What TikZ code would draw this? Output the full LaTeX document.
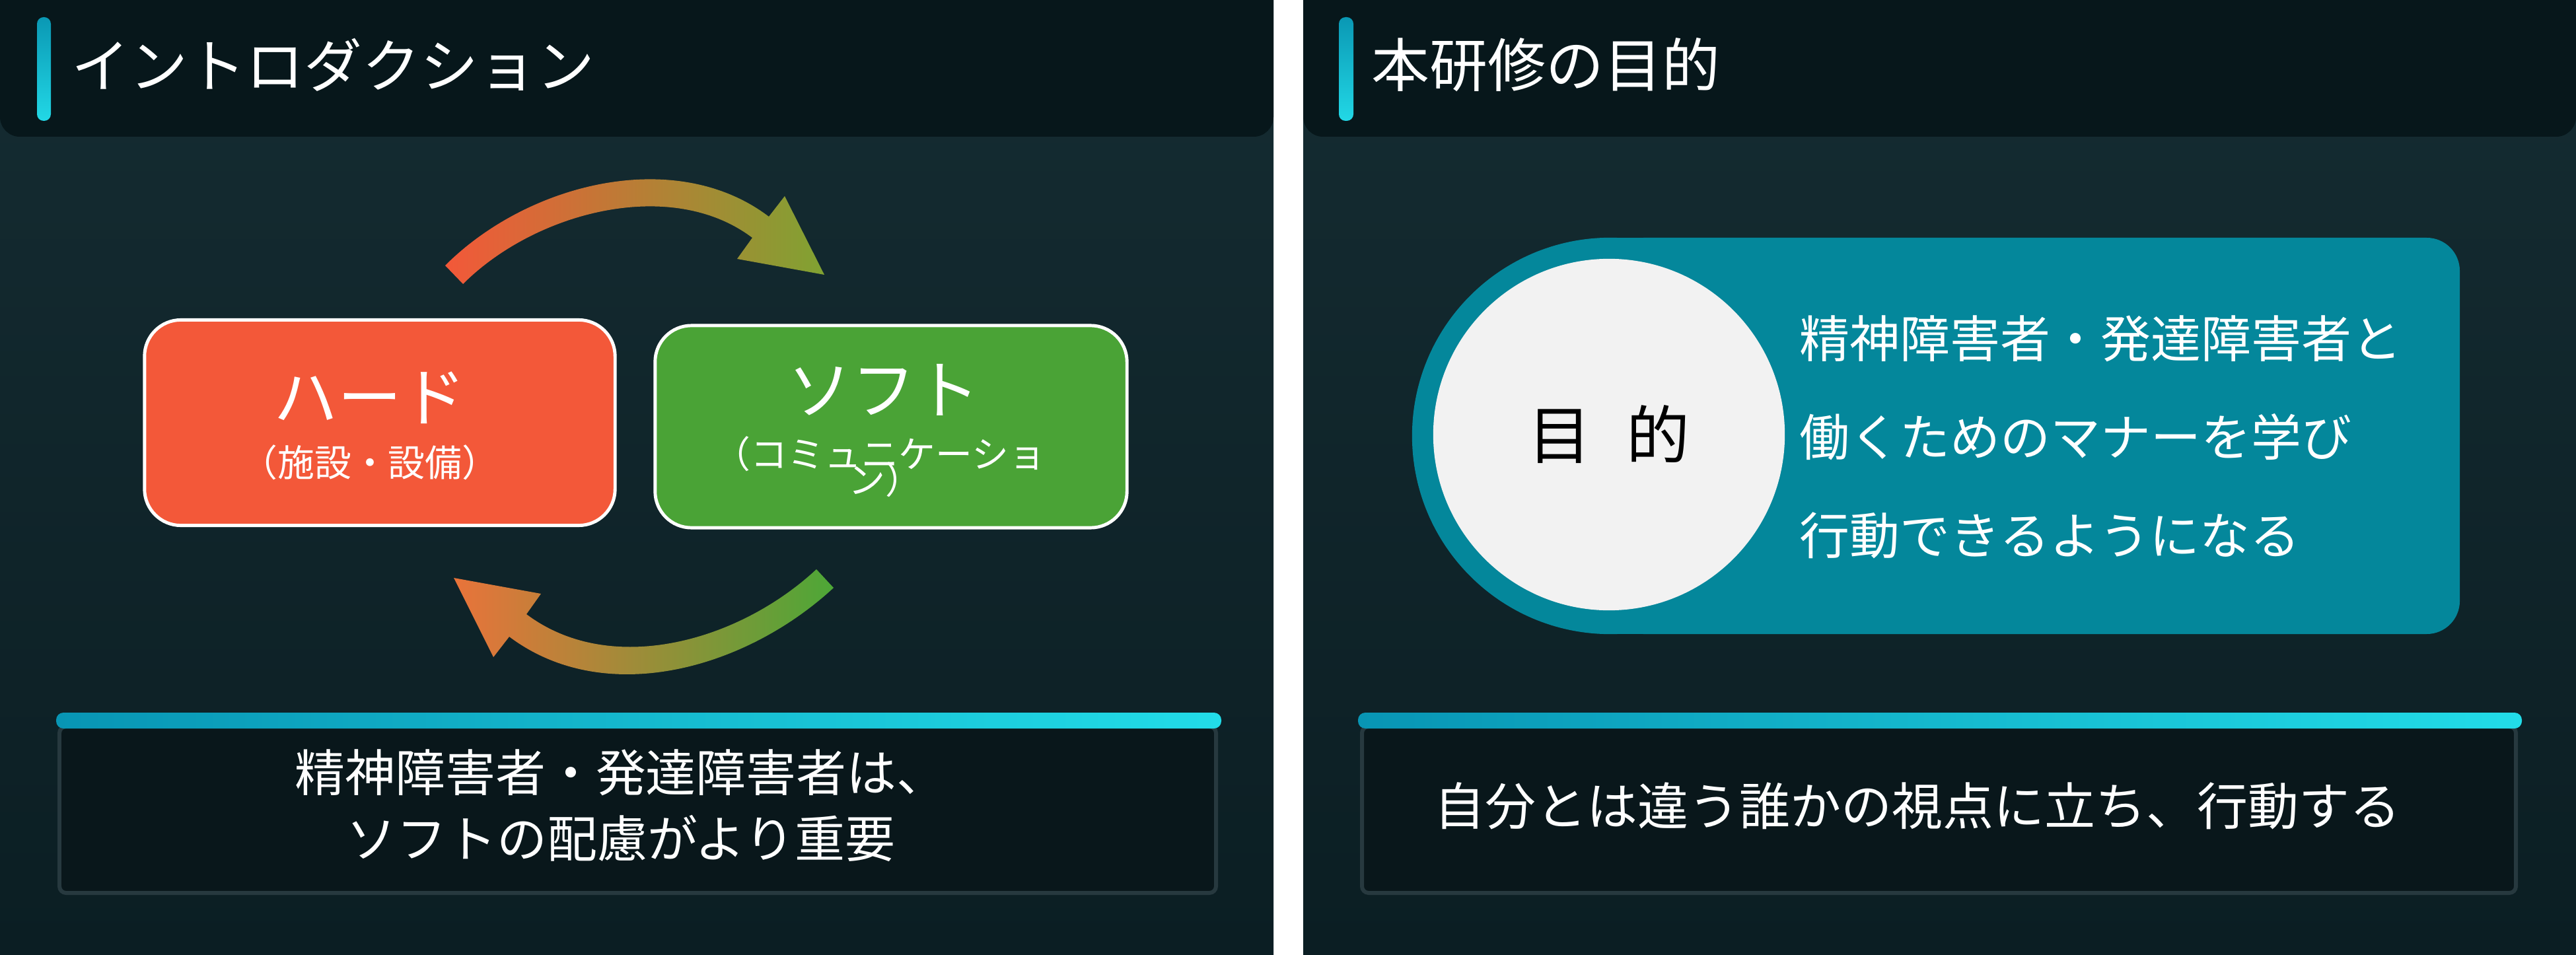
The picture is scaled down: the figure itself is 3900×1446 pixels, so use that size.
\documentclass[tikz,border=0pt]{standalone}
\usepackage{fontspec}
\setmainfont{Noto Sans CJK JP}
\definecolor{panelTop}{HTML}{152C32}
\definecolor{panelBot}{HTML}{0B1E23}
\definecolor{headDark}{HTML}{07171B}
\definecolor{accentA}{HTML}{0A98B4}
\definecolor{accentB}{HTML}{22D8E6}
\definecolor{hardRed}{HTML}{F35839}
\definecolor{softGreen}{HTML}{4AA336}
\definecolor{goalTeal}{HTML}{04879B}
\definecolor{goalWhite}{HTML}{F2F2F2}
\definecolor{noteFill}{HTML}{09171B}
\definecolor{noteEdge}{HTML}{27393F}
\definecolor{barA}{HTML}{0895B4}
\definecolor{barB}{HTML}{22DCE8}
\newcommand\fsz[2]{\fontsize{#1}{#2}\selectfont}
\begin{document}
\begin{tikzpicture}[x=0.01cm,y=-0.01cm,
    panel/.style={top color=panelTop,bottom color=panelBot},
    header/.style={fill=headDark,rounded corners=0.3cm},
    accent/.style={top color=accentA,bottom color=accentB,rounded corners=0.1cm},
    title/.style={text=white,inner sep=0,font=\fsz{25pt}{30pt}},
    cardbox/.style={draw=white,line width=1.4pt,rounded corners=0.55cm,inner sep=0},
    bigtxt/.style={text=white,inner sep=0,font=\fsz{27.6pt}{33pt}},
    subtxt/.style={text=white,inner sep=0,font=\fsz{15.9pt}{19pt}},
    bodytxt/.style={text=white,inner sep=0,font=\fsz{21.6pt}{28.45pt}},
    notebox/.style={fill=noteFill,draw=noteEdge,line width=1.7pt,rounded corners=0.1cm},
    notebar/.style={left color=barA,right color=barB,rounded corners=0.11cm}]
    \useasboundingbox (0,0) rectangle (3900,1446);
    \fill[white] (0,0) rectangle (3900,1446);

    % two panels
    \shade[panel] (0,0) rectangle (1928,1446);
    \shade[panel] (1973,0) rectangle (3900,1446);
    \fill[header] (0,-60) rectangle (1928,207);
    \fill[header] (1973,-60) rectangle (3900,207);
    \shade[accent] (56,26) rectangle (77,183);
    \shade[accent] (2027,26) rectangle (2049,183);
    \node[title,anchor=west] (introtitle) at (108,98) {イントロダクション};
    \node[title,anchor=west] (goaltitle) at (2076,98) {本研修の目的};

    % hard / soft cycle
    \node[cardbox,fill=hardRed,minimum width=7.12cm,minimum height=3.11cm] (hard) at (575,640) {};
    \node[cardbox,fill=softGreen,minimum width=7.14cm,minimum height=3.06cm] (soft) at (1349,646) {};
    \node[bigtxt] (hardname) at (560,602) {ハード};
    \node[subtxt] (hardsub) at (560,700) {（施設・設備）};
    \node[bigtxt] (softname) at (1338,590) {ソフト};
    \node[subtxt] (softsub) at (1332,687) {（コミュニケーショ};
    \node[subtxt] (softsubend) at (1340,726) {ン）};

    \shade[left color=hardRed,middle color={rgb,255:red,218;green,142;blue,58},right color={rgb,255:red,128;green,162;blue,50}]
        (674,402) .. controls (799,277) and (1023,221) .. (1164,328) -- (1188,297) -- (1248,416)
        -- (1116,392) -- (1139,360) .. controls (1016,267) and (810,321) .. (701,430) -- cycle;
    \shade[left color={rgb,255:red,233;green,115;blue,58},middle color={rgb,255:red,190;green,150;blue,56},right color={rgb,255:red,77;green,167;blue,55}]
        (1262,890) .. controls (1129,1013) and (916,1073) .. (771,964) -- (747,995) -- (687,875)
        -- (819,899) -- (797,930) .. controls (925,1026) and (1119,971) .. (1236,862) -- cycle;

    % goal card
    \fill[goalTeal,rounded corners=0.5cm] (2438,360) rectangle (3724,960);
    \fill[goalTeal] (2438,360) rectangle (2700,960);
    \fill[goalTeal] (2438,660) circle[radius=3cm];
    \node[circle,fill=goalWhite,minimum size=5.32cm,inner sep=0,font=\fsz{27.3pt}{33pt}] (goal) at (2436,658) {目\hspace{0.55em}的};
    \node[bodytxt,anchor=west,align=left,font=\fsz{21.6pt}{42.4pt}] (goaltext) at (2724,662)
        {精神障害者・発達障害者と\\働くためのマナーを学び\\行動できるようになる};

    % notes
    \draw[notebox] (90,1100) rectangle (1841,1352);
    \shade[notebar] (85,1079) rectangle (1849,1103);
    \node[bodytxt,align=center] (hardnote) at (940,1220) {精神障害者・発達障害者は、\\ソフトの配慮がより重要};
    \draw[notebox] (2062,1100) rectangle (3809,1352);
    \shade[notebar] (2056,1079) rectangle (3818,1103);
    \node[bodytxt,font=\fsz{21.9pt}{28.45pt}] (goalnote) at (2903,1220) {自分とは違う誰かの視点に立ち、行動する};
\end{tikzpicture}
\end{document}
